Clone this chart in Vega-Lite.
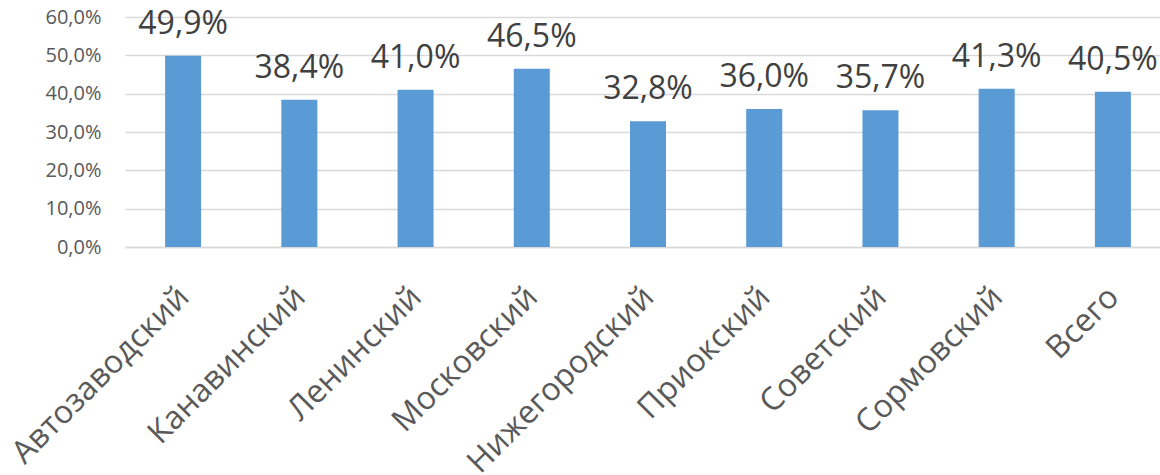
{
  "$schema": "https://vega.github.io/schema/vega-lite/v6.json",
  "autosize": {"type": "none"},
  "padding": {"left": 125, "top": 17, "right": 0, "bottom": 228},
  "width": 1046,
  "height": 230,
  "background": "white",
  "config": {
    "locale": {"number": {"decimal": ",", "thousands": " ", "grouping": [3], "currency": ["", " ₽"]}},
    "view": {"stroke": null},
    "font": "Open Sans"
  },
  "data": {
    "values": [
      {"district": "Автозаводский", "share": 0.499},
      {"district": "Канавинский", "share": 0.384},
      {"district": "Ленинский", "share": 0.410},
      {"district": "Московский", "share": 0.465},
      {"district": "Нижегородский", "share": 0.328},
      {"district": "Приокский", "share": 0.360},
      {"district": "Советский", "share": 0.357},
      {"district": "Сормовский", "share": 0.413},
      {"district": "Всего", "share": 0.405}
    ]
  },
  "encoding": {
    "x": {
      "field": "district", "type": "nominal", "sort": null,
      "scale": {"paddingInner": 0.69, "paddingOuter": 0.345},
      "axis": {
        "title": null, "labelAngle": -45, "labelAlign": "right", "labelBaseline": "top",
        "labelFontSize": 32, "labelColor": "#595959", "labelPadding": 34, "labelOffset": -10,
        "labelLimit": 0, "ticks": false, "domainColor": "#D9D9D9", "domainWidth": 1.5, "labelOverlap": false
      }
    },
    "y": {
      "field": "share", "type": "quantitative",
      "scale": {"domain": [0, 0.6]},
      "axis": {
        "title": null, "format": ".1%", "values": [0, 0.1, 0.2, 0.3, 0.4, 0.5, 0.6],
        "labelFontSize": 20, "labelColor": "#595959", "labelPadding": 24,
        "ticks": false, "domain": false, "gridColor": "#D9D9D9", "gridWidth": 1.5
      }
    }
  },
  "layer": [
    {"mark": {"type": "bar", "color": "#5B9BD5"}},
    {
      "mark": {"type": "text", "fontSize": 32, "color": "#404040", "baseline": "alphabetic", "dy": -22},
      "encoding": {"text": {"field": "share", "type": "quantitative", "format": ".1%"}}
    }
  ]
}
